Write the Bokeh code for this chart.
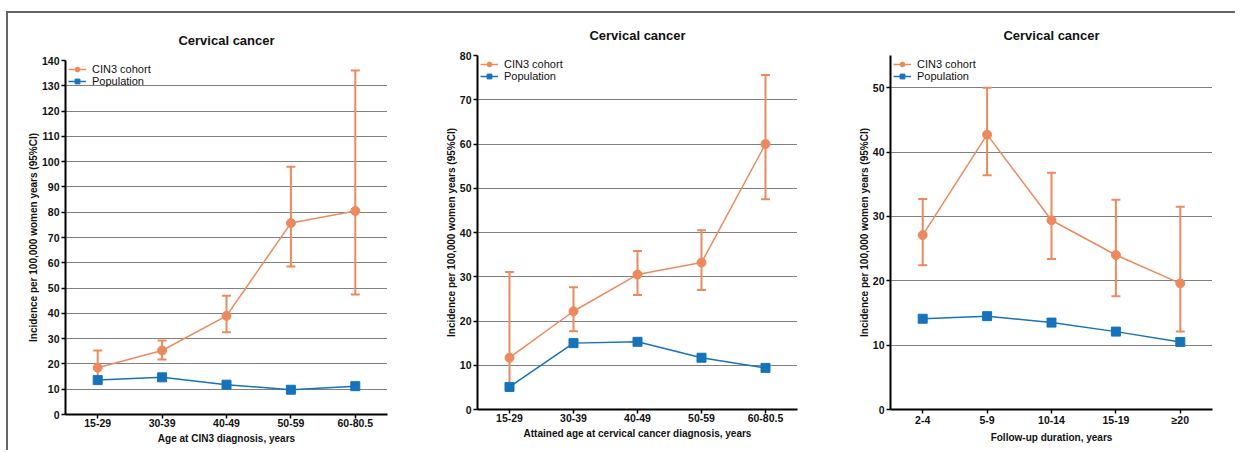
from bokeh.plotting import figure
from bokeh.models import ColumnDataSource, Whisker, TeeHead, FixedTicker, FactorRange, Range1d, Row, Column
from bokeh.embed import file_html
from bokeh.resources import INLINE

# ---- data ----
cats1 = ["15-29", "30-39", "40-49", "50-59", "60-80.5"]
cin1 = [18.5, 25.3, 39.0, 75.7, 80.5]
cin1_lo = [14.0, 21.8, 32.5, 58.5, 47.5]
cin1_hi = [25.3, 29.3, 47.0, 98.0, 136.0]
pop1 = [13.6, 14.7, 11.8, 9.8, 11.2]

cats2 = ["15-29", "30-39", "40-49", "50-59", "60-80.5"]
cin2 = [11.7, 22.2, 30.5, 33.2, 60.0]
cin2_lo = [4.5, 17.7, 25.9, 27.0, 47.5]
cin2_hi = [31.1, 27.6, 35.8, 40.5, 75.6]
pop2 = [5.1, 15.0, 15.3, 11.7, 9.4]

cats3 = ["2-4", "5-9", "10-14", "15-19", "\u226520"]
cin3 = [27.1, 42.7, 29.4, 24.0, 19.6]
cin3_lo = [22.4, 36.4, 23.4, 17.6, 12.1]
cin3_hi = [32.7, 50.0, 36.8, 32.6, 31.5]
pop3 = [14.1, 14.5, 13.5, 12.1, 10.5]

title_text = "Cervical cancer"
ylabel = "Incidence per 100,000 women years (95%CI)"
xlabels = ["Age at CIN3 diagnosis, years",
           "Attained age at cervical cancer diagnosis, years",
           "Follow-up duration, years"]

ORANGE = "#EC8A5E"
BLUE = "#1673BA"
FONT = "Liberation Sans"


def panel(cats, cin, lo, hi, pop, ymax, ticks, xlabel, w, h, bl, br, bt, bb):
    p = figure(x_range=FactorRange(*cats), y_range=Range1d(0, ymax),
               width=w, height=h, output_backend="svg", toolbar_location=None,
               min_border_left=bl, min_border_right=br, min_border_top=bt,
               min_border_bottom=bb)
    p.outline_line_color = None
    p.background_fill_color = "white"
    p.border_fill_color = "white"
    p.x_range.range_padding = 0

    p.title.text = title_text
    p.title.align = "center"
    p.title.text_font = FONT
    p.title.text_font_size = "13px"
    p.title.text_font_style = "bold"
    p.title.text_color = "#111111"
    p.title.standoff = 25

    p.xgrid.grid_line_color = None
    p.ygrid.grid_line_color = "black"
    p.ygrid.grid_line_dash = "1 1"
    p.ygrid.grid_line_width = 1

    p.yaxis.ticker = FixedTicker(ticks=ticks)
    for ax in (p.xaxis[0], p.yaxis[0]):
        ax.axis_line_color = "black"
        ax.axis_line_width = 2
        ax.major_tick_line_color = "black"
        ax.major_tick_line_width = 1.5
        ax.major_tick_out = 4
        ax.major_tick_in = 0
        ax.minor_tick_line_color = None
        ax.major_label_text_font = FONT
        ax.major_label_text_font_style = "bold"
        ax.major_label_text_font_size = "10.5px"
        ax.major_label_text_color = "#111111"
        ax.axis_label_text_font = FONT
        ax.axis_label_text_font_style = "bold"
        ax.axis_label_text_font_size = "10px"
        ax.axis_label_text_color = "#111111"
    p.xaxis.axis_label = xlabel
    p.xaxis.axis_label_standoff = 3
    p.xaxis.major_label_standoff = 0
    p.yaxis.axis_label = ylabel
    p.yaxis.axis_label_standoff = 0
    p.yaxis.major_label_standoff = 2

    src = ColumnDataSource(dict(x=cats, cin=cin, lo=lo, hi=hi, pop=pop))
    wh = Whisker(base="x", lower="lo", upper="hi", source=src,
                 line_color=ORANGE, line_width=2,
                 upper_head=TeeHead(size=9, line_color=ORANGE, line_width=2),
                 lower_head=TeeHead(size=9, line_color=ORANGE, line_width=2))
    p.add_layout(wh)

    p.line("x", "cin", source=src, color=ORANGE, line_width=1.5, legend_label="CIN3 cohort")
    p.scatter("x", "cin", source=src, marker="circle", size=9, color=ORANGE, legend_label="CIN3 cohort")
    p.line("x", "pop", source=src, color=BLUE, line_width=1.5, legend_label="Population")
    p.scatter("x", "pop", source=src, marker="square", size=9, color=BLUE, legend_label="Population")

    lg = p.legend[0]
    lg.location = "top_left"
    lg.border_line_color = None
    lg.background_fill_alpha = 0
    lg.label_text_font = FONT
    lg.label_text_font_size = "11px"
    lg.label_text_color = "#111111"
    lg.glyph_width = 18
    lg.glyph_height = 12
    lg.label_height = 12
    lg.label_standoff = 6
    lg.spacing = 0
    lg.padding = 0
    lg.margin = 3
    return p


p1 = panel(cats1, cin1, cin1_lo, cin1_hi, pop1, 140, list(range(0, 141, 10)), xlabels[0],
           412, 437, 57, 33, 47, 36)
p2 = panel(cats2, cin2, cin2_lo, cin2_hi, pop2, 80, list(range(0, 81, 10)), xlabels[1],
           415, 437, 57, 38, 42, 41)
p3 = panel(cats3, cin3, cin3_lo, cin3_hi, pop3, 55, list(range(0, 51, 10)), xlabels[2],
           400, 437, 55, 23, 42, 41)

layout = Row(children=[Column(children=[p1]), Column(children=[p2]), Column(children=[p3])],
             styles={"border-top": "2px solid #666666", "border-left": "2px solid #666666",
                     "margin-top": "11px", "margin-left": "6px"})

open("out.html", "w").write(file_html(layout, INLINE))
